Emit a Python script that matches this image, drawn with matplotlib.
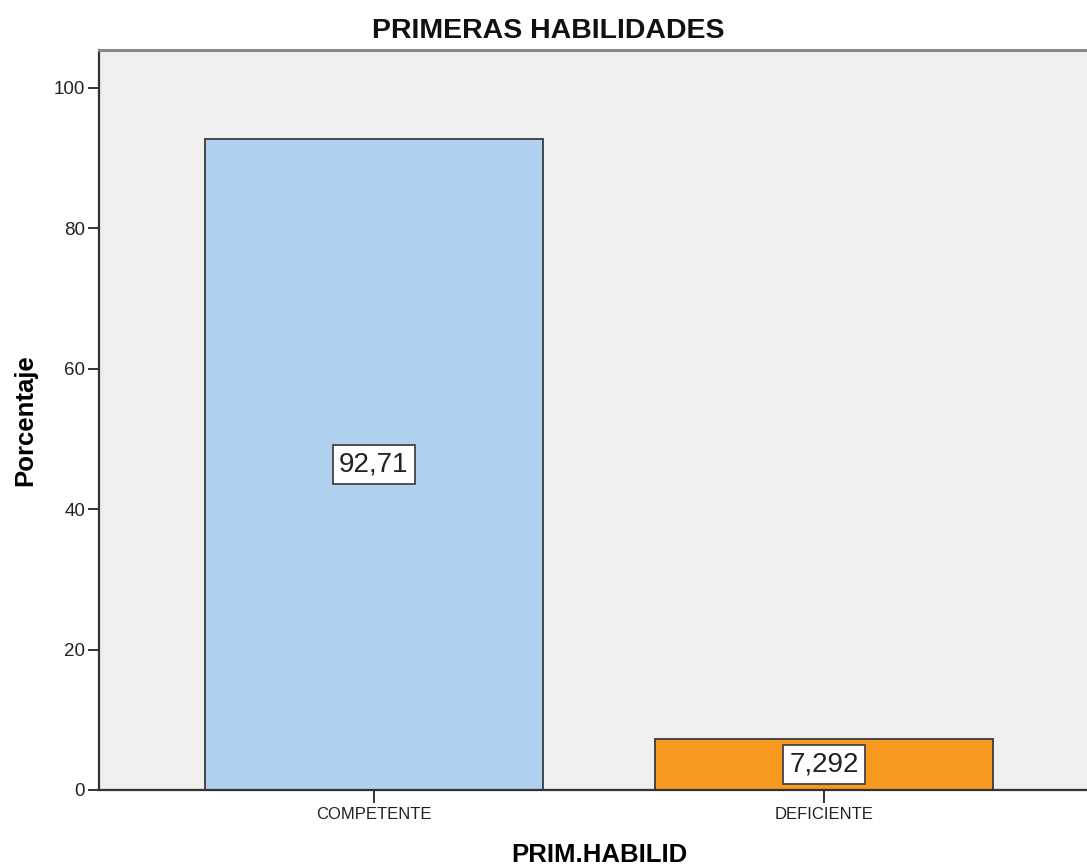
#####################################################################################
# IMPORTS
#####################################################################################

import matplotlib
matplotlib.use('Agg')
import matplotlib.pyplot as plt

#####################################################################################
# DATA
#####################################################################################

# categories of PRIM.HABILID and their percentage
categorias = ['COMPETENTE', 'DEFICIENTE']
porcentajes = [92.71, 7.292]
etiquetas = ['92,71', '7,292']
colores = ['#AFD0EE', '#F89A1F']

#####################################################################################
# PLOT
#####################################################################################

plt.rcParams['font.family'] = ['Liberation Sans', 'DejaVu Sans']

W, H = 1087, 868
fig = plt.figure(figsize=(W / 100, H / 100), dpi=100)

# axes box in pixels: left 99, right 1099 (cropped by figure), top 50, bottom 790
ax = fig.add_axes([99 / W, (H - 790) / H, 1000 / W, 740 / H])
ax.set_facecolor('#EFEFEF')

pos = list(range(len(categorias)))
ax.bar(pos, porcentajes, width=0.751, color=colores, edgecolor='#3a3a3a', linewidth=1.3, zorder=2)

# value labels in white boxes, placed at half the bar height
for x, v, txt in zip(pos, porcentajes, etiquetas):
	ax.text(x, v / 2, txt, ha='center', va='center', fontsize=20, color='#222222', zorder=3,
		bbox=dict(boxstyle='square,pad=0.24', facecolor='white', edgecolor='#444444', linewidth=1.3))

ax.set_xlim(-0.611, 1.611)
ax.set_ylim(0, 105.4)
ax.set_yticks([0, 20, 40, 60, 80, 100])
ax.set_xticks(pos)
ax.set_xticklabels(categorias)

ax.tick_params(axis='y', length=8, width=1.4, color='#333333', labelsize=13.5, pad=2, labelcolor='#222222')
ax.tick_params(axis='x', length=9, width=1.4, color='#333333', labelsize=12, pad=3, labelcolor='#222222')

for s in ['left', 'bottom']:
	ax.spines[s].set_color('#333333')
	ax.spines[s].set_linewidth(1.6)
ax.spines['top'].set_color('#8a8a8a')
ax.spines['top'].set_linewidth(2.2)
ax.spines['right'].set_visible(False)

ax.set_ylabel('Porcentaje', fontsize=18.5, fontweight='bold', va='center')
ax.yaxis.set_label_coords(-0.074, 0.5)
ax.set_xlabel('PRIM.HABILID', fontsize=18.5, fontweight='bold', va='center')
ax.xaxis.set_label_coords(0.5, (790 - 855) / 740)

fig.text(548 / W, 1 - 31 / H, 'PRIMERAS HABILIDADES', ha='center', va='center',
	fontsize=20.5, fontweight='bold', color='#111111')

fig.savefig('out.png', dpi=100)
